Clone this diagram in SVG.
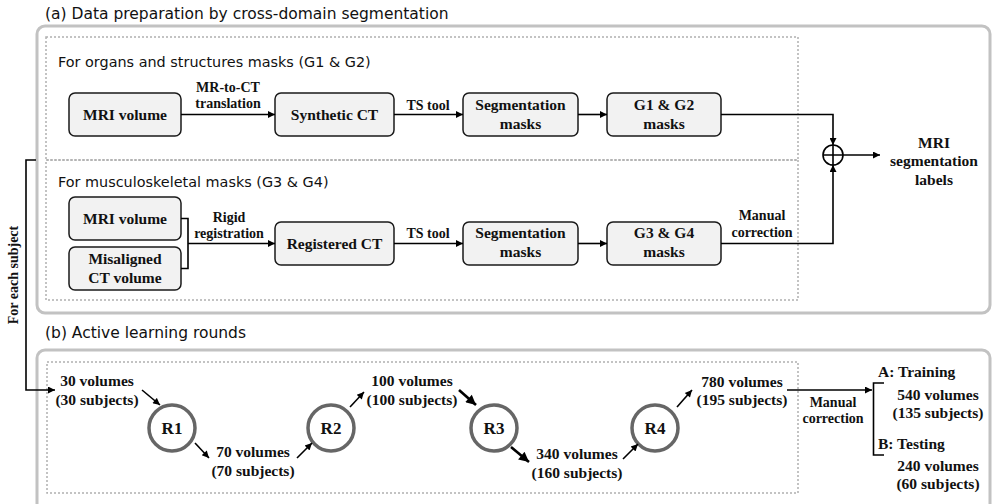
<svg xmlns="http://www.w3.org/2000/svg" width="992" height="504" viewBox="0 0 992 504">
<defs>
<marker id="ah" viewBox="0 0 10 10" refX="10" refY="5" markerWidth="9" markerHeight="7" markerUnits="userSpaceOnUse" orient="auto"><path d="M0,0 L10,5 L0,10 z" fill="#000"/></marker>
<marker id="ahb" viewBox="0 0 10 10" refX="10" refY="5" markerWidth="11" markerHeight="10" markerUnits="userSpaceOnUse" orient="auto"><path d="M0,0 L10,5 L0,10 z" fill="#000"/></marker>
<style>
.frame{fill:none;stroke:#c2c2c2;stroke-width:3}
.dot{fill:none;stroke:#b0b0b0;stroke-width:1.5;stroke-dasharray:2 2}
.box{fill:#f2f2f2;stroke:#1a1a1a;stroke-width:1.5}
.ttl{font-family:"DejaVu Sans","Open Sans",sans-serif;font-size:15.5px;fill:#111}
.sub{font-family:"DejaVu Sans","Open Sans",sans-serif;font-size:14.4px;fill:#111}
.bt{font-family:"Liberation Serif",serif;font-weight:bold;font-size:15.5px;fill:#111;text-anchor:middle}
.lb{font-family:"Liberation Serif",serif;font-weight:bold;font-size:14px;fill:#111;text-anchor:middle}
.ln{fill:none;stroke:#000;stroke-width:1.6}
.lk{fill:none;stroke:#000;stroke-width:2.6}
.rc{fill:#fff;stroke:#666;stroke-width:3.5}
.rt{font-family:"Liberation Serif",serif;font-weight:bold;font-size:17px;fill:#111;text-anchor:middle}
</style>
</defs>

<g id="sectionA">
<text class="ttl" x="45" y="19">(a) Data preparation by cross-domain segmentation</text>
<rect class="frame" x="37" y="26" width="953" height="287" rx="8"/>
<rect class="dot" x="46" y="37" width="752" height="123"/>
<rect class="dot" x="46" y="160" width="752" height="140"/>
<text class="sub" x="58" y="67">For organs and structures masks (G1 &amp; G2)</text>
<text class="sub" x="58" y="187">For musculoskeletal masks (G3 &amp; G4)</text>
</g>

<g id="n_mri1"><rect class="box" x="69" y="93" width="112" height="43" rx="6"/><text class="bt" x="125" y="120">MRI volume</text></g>
<g id="n_synct"><rect class="box" x="275" y="93" width="119" height="43" rx="6"/><text class="bt" x="334.5" y="120">Synthetic CT</text></g>
<g id="n_seg1"><rect class="box" x="463" y="93" width="115" height="43" rx="6"/><text class="bt" x="520.5" y="110">Segmentation</text><text class="bt" x="520.5" y="129">masks</text></g>
<g id="n_g12"><rect class="box" x="607" y="93" width="114" height="43" rx="6"/><text class="bt" x="664" y="110">G1 &amp; G2</text><text class="bt" x="664" y="129">masks</text></g>

<g id="n_mri2"><rect class="box" x="69" y="197" width="112" height="43" rx="6"/><text class="bt" x="125" y="224">MRI volume</text></g>
<g id="n_ct"><rect class="box" x="69" y="247" width="112" height="43" rx="6"/><text class="bt" x="125" y="264">Misaligned</text><text class="bt" x="125" y="283">CT volume</text></g>
<g id="n_regct"><rect class="box" x="275" y="222" width="119" height="43" rx="6"/><text class="bt" x="334.5" y="249">Registered CT</text></g>
<g id="n_seg2"><rect class="box" x="463" y="222" width="115" height="43" rx="6"/><text class="bt" x="520.5" y="238">Segmentation</text><text class="bt" x="520.5" y="257">masks</text></g>
<g id="n_g34"><rect class="box" x="607" y="222" width="114" height="43" rx="6"/><text class="bt" x="664" y="238">G3 &amp; G4</text><text class="bt" x="664" y="257">masks</text></g>

<g id="n_sum"><circle cx="833" cy="155" r="10" fill="#fff" stroke="#000" stroke-width="1.6"/><path d="M823,155 H843 M833,145 V165" stroke="#000" stroke-width="1.6"/></g>
<g id="n_labels"><text class="bt" x="934" y="148">MRI</text><text class="bt" x="934" y="166">segmentation</text><text class="bt" x="934" y="185">labels</text></g>

<g id="n_each"><text class="lb" transform="translate(18,275) rotate(-90)" x="0" y="0">For each subject</text></g>

<g id="sectionB">
<text class="ttl" x="45" y="338">(b) Active learning rounds</text>
<rect class="frame" x="37" y="350" width="953" height="170" rx="8"/>
<rect class="dot" x="47" y="362" width="751" height="131"/>
</g>

<g id="n_r1"><circle class="rc" cx="172" cy="428" r="23"/><text class="rt" x="172" y="434">R1</text></g>
<g id="n_r2"><circle class="rc" cx="331" cy="428" r="23"/><text class="rt" x="331" y="434">R2</text></g>
<g id="n_r3"><circle class="rc" cx="494" cy="428" r="23"/><text class="rt" x="494" y="434">R3</text></g>
<g id="n_r4"><circle class="rc" cx="655" cy="428" r="23"/><text class="rt" x="655" y="434">R4</text></g>

<g id="n_v30"><text class="bt" x="97" y="386">30 volumes</text><text class="bt" x="97" y="405">(30 subjects)</text></g>
<g id="n_v70"><text class="bt" x="253" y="457">70 volumes</text><text class="bt" x="253" y="476">(70 subjects)</text></g>
<g id="n_v100"><text class="bt" x="412" y="386">100 volumes</text><text class="bt" x="412" y="405">(100 subjects)</text></g>
<g id="n_v340"><text class="bt" x="577" y="459">340 volumes</text><text class="bt" x="577" y="478">(160 subjects)</text></g>
<g id="n_v780"><text class="bt" x="742" y="387">780 volumes</text><text class="bt" x="742" y="405">(195 subjects)</text></g>
<g id="n_train"><text class="bt" x="878" y="377" style="text-anchor:start">A: Training</text><text class="bt" x="938" y="400">540 volumes</text><text class="bt" x="938" y="418">(135 subjects)</text></g>
<g id="n_test"><text class="bt" x="878" y="449" style="text-anchor:start">B: Testing</text><text class="bt" x="938" y="471">240 volumes</text><text class="bt" x="938" y="489">(60 subjects)</text></g>

<g id="connectors">
<line class="ln" x1="181" y1="114.5" x2="275" y2="114.5" marker-end="url(#ah)"/>
<text class="lb" x="228" y="92">MR-to-CT</text><text class="lb" x="228" y="108">translation</text>
<line class="ln" x1="394" y1="114.5" x2="463" y2="114.5" marker-end="url(#ah)"/>
<text class="lb" x="428" y="110">TS tool</text>
<line class="ln" x1="578" y1="114.5" x2="607" y2="114.5" marker-end="url(#ah)"/>
<path class="ln" d="M721,114.5 H833 V145" marker-end="url(#ah)"/>
<line class="ln" x1="843" y1="155" x2="880" y2="155" marker-end="url(#ah)"/>

<path class="ln" d="M181,218.5 H188 V268.5 H181"/>
<line class="ln" x1="188" y1="243.5" x2="275" y2="243.5" marker-end="url(#ah)"/>
<text class="lb" x="229" y="222">Rigid</text><text class="lb" x="229" y="238">registration</text>
<line class="ln" x1="394" y1="243.5" x2="463" y2="243.5" marker-end="url(#ah)"/>
<text class="lb" x="428" y="238">TS tool</text>
<line class="ln" x1="578" y1="243.5" x2="607" y2="243.5" marker-end="url(#ah)"/>
<path class="ln" d="M721,243.5 H833 V165" marker-end="url(#ah)"/>
<text class="lb" x="762" y="220">Manual</text><text class="lb" x="762" y="237">correction</text>

<path class="ln" d="M36,160 H26 V390 H55" marker-end="url(#ah)"/>

<line class="ln" x1="142" y1="390" x2="160" y2="405" marker-end="url(#ah)"/>
<line class="ln" x1="195" y1="443" x2="209" y2="458" marker-end="url(#ah)"/>
<line class="ln" x1="297" y1="458" x2="312" y2="443" marker-end="url(#ah)"/>
<line class="ln" x1="350" y1="407" x2="364" y2="392" marker-end="url(#ah)"/>
<line class="lk" x1="459" y1="390" x2="476" y2="405" marker-end="url(#ahb)"/>
<line class="lk" x1="511" y1="447" x2="529" y2="462" marker-end="url(#ahb)"/>
<line class="ln" x1="623" y1="459" x2="638" y2="444" marker-end="url(#ah)"/>
<line class="ln" x1="677" y1="407" x2="692" y2="390" marker-end="url(#ah)"/>
<line class="ln" x1="787" y1="390" x2="872" y2="390" marker-end="url(#ah)"/>
<text class="lb" x="833" y="407">Manual</text><text class="lb" x="833" y="423">correction</text>
<path class="ln" d="M884,383 H873.5 V455 H884"/>
</g>
</svg>
